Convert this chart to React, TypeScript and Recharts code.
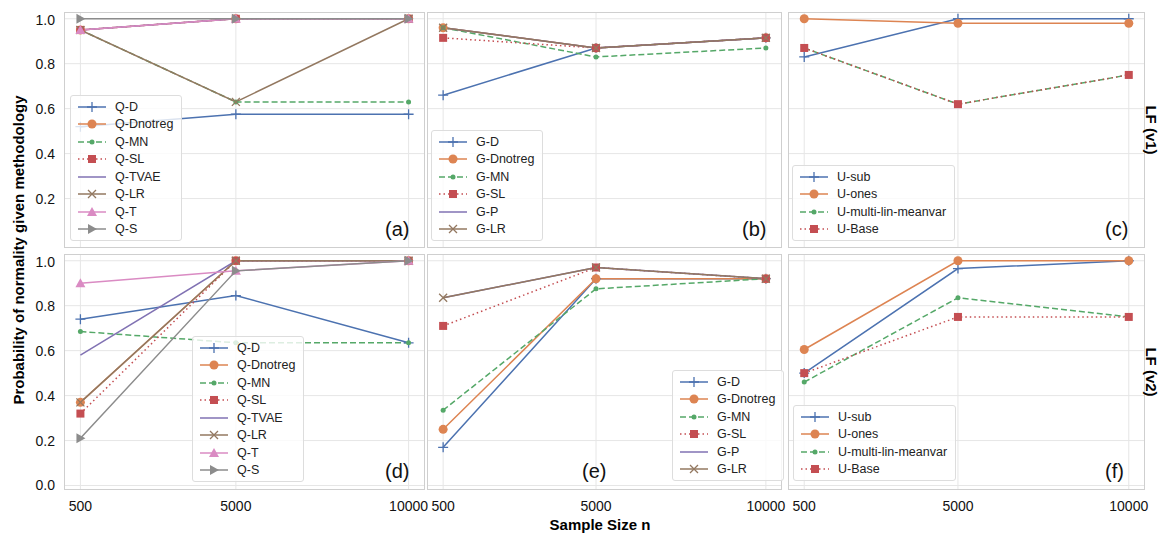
import React from 'react';
import { LineChart, Line, XAxis, YAxis, CartesianGrid } from 'recharts';

const sizes = [500, 5000, 10000];
const yTicks = [0, 0.2, 0.4, 0.6, 0.8, 1.0];

// panel (a): Q methods, LF v1
const aQD = [0.52, 0.575, 0.575];
const aQDnotreg = [0.95, 1.0, 1.0];
const aQMN = [0.95, 0.63, 0.63];
const aQSL = [0.95, 1.0, 1.0];
const aQTVAE = [0.95, 1.0, 1.0];
const aQLR = [0.95, 0.63, 1.0];
const aQT = [0.95, 1.0, 1.0];
const aQS = [1.0, 1.0, 1.0];

// panel (b): G methods, LF v1
const bGD = [0.66, 0.87, 0.915];
const bGDnotreg = [0.96, 0.87, 0.915];
const bGMN = [0.96, 0.83, 0.87];
const bGSL = [0.915, 0.87, 0.915];
const bGP = [0.96, 0.87, 0.915];
const bGLR = [0.96, 0.87, 0.915];

// panel (c): U methods, LF v1
const cUsub = [0.83, 1.0, 1.0];
const cUones = [1.0, 0.98, 0.98];
const cUmulti = [0.87, 0.62, 0.75];
const cUBase = [0.87, 0.62, 0.75];

// panel (d): Q methods, LF v2
const dQD = [0.74, 0.845, 0.635];
const dQDnotreg = [0.37, 1.0, 1.0];
const dQMN = [0.685, 0.635, 0.635];
const dQSL = [0.32, 1.0, 1.0];
const dQTVAE = [0.58, 1.0, 1.0];
const dQLR = [0.37, 1.0, 1.0];
const dQT = [0.9, 0.955, 1.0];
const dQS = [0.21, 0.955, 1.0];

// panel (e): G methods, LF v2
const eGD = [0.17, 0.92, 0.92];
const eGDnotreg = [0.25, 0.92, 0.92];
const eGMN = [0.335, 0.875, 0.92];
const eGSL = [0.71, 0.97, 0.92];
const eGP = [0.835, 0.97, 0.92];
const eGLR = [0.835, 0.97, 0.92];

// panel (f): U methods, LF v2
const fUsub = [0.5, 0.965, 1.0];
const fUones = [0.605, 1.0, 1.0];
const fUmulti = [0.46, 0.835, 0.75];
const fUBase = [0.5, 0.75, 0.75];

const C = {
  blue: '#4C72B0', orange: '#DD8452', green: '#55A868', red: '#C44E52',
  purple: '#8172B3', brown: '#937860', pink: '#DA8BC3', gray: '#8C8C8C',
};

type Marker = 'plus' | 'circle' | 'dot' | 'square' | 'none' | 'x' | 'tri' | 'right';
type S = { name: string; values: number[]; color: string; marker: Marker; dash?: string };

const drawMarker = (m: Marker, cx: number, cy: number, color: string, key?: any) => {
  switch (m) {
    case 'plus':
      return <path key={key} d={`M${cx - 5},${cy}H${cx + 5}M${cx},${cy - 5}V${cy + 5}`} stroke={color} strokeWidth={1.3} />;
    case 'circle':
      return <circle key={key} cx={cx} cy={cy} r={4.5} fill={color} />;
    case 'dot':
      return <circle key={key} cx={cx} cy={cy} r={2.5} fill={color} />;
    case 'square':
      return <rect key={key} x={cx - 4} y={cy - 4} width={8} height={8} fill={color} />;
    case 'x':
      return <path key={key} d={`M${cx - 4},${cy - 4}L${cx + 4},${cy + 4}M${cx - 4},${cy + 4}L${cx + 4},${cy - 4}`} stroke={color} strokeWidth={1.3} />;
    case 'tri':
      return <path key={key} d={`M${cx},${cy - 5}L${cx + 5},${cy + 4}L${cx - 5},${cy + 4}Z`} fill={color} />;
    case 'right':
      return <path key={key} d={`M${cx + 5},${cy}L${cx - 4},${cy - 5}L${cx - 4},${cy + 5}Z`} fill={color} />;
    default:
      return <g key={key} />;
  }
};

const qSeries = (v: number[][]): S[] => [
  { name: 'Q-D', values: v[0], color: C.blue, marker: 'plus' },
  { name: 'Q-Dnotreg', values: v[1], color: C.orange, marker: 'circle' },
  { name: 'Q-MN', values: v[2], color: C.green, marker: 'dot', dash: '6 3' },
  { name: 'Q-SL', values: v[3], color: C.red, marker: 'square', dash: '1.5 3' },
  { name: 'Q-TVAE', values: v[4], color: C.purple, marker: 'none' },
  { name: 'Q-LR', values: v[5], color: C.brown, marker: 'x' },
  { name: 'Q-T', values: v[6], color: C.pink, marker: 'tri' },
  { name: 'Q-S', values: v[7], color: C.gray, marker: 'right' },
];
const gSeries = (v: number[][]): S[] => [
  { name: 'G-D', values: v[0], color: C.blue, marker: 'plus' },
  { name: 'G-Dnotreg', values: v[1], color: C.orange, marker: 'circle' },
  { name: 'G-MN', values: v[2], color: C.green, marker: 'dot', dash: '6 3' },
  { name: 'G-SL', values: v[3], color: C.red, marker: 'square', dash: '1.5 3' },
  { name: 'G-P', values: v[4], color: C.purple, marker: 'none' },
  { name: 'G-LR', values: v[5], color: C.brown, marker: 'x' },
];
const uSeries = (v: number[][]): S[] => [
  { name: 'U-sub', values: v[0], color: C.blue, marker: 'plus' },
  { name: 'U-ones', values: v[1], color: C.orange, marker: 'circle' },
  { name: 'U-multi-lin-meanvar', values: v[2], color: C.green, marker: 'dot', dash: '6 3' },
  { name: 'U-Base', values: v[3], color: C.red, marker: 'square', dash: '1.5 3' },
];

const font = '"Liberation Sans", Arial, sans-serif';
const PLOT_H = 236;
const cols = [{ left: 64, w: 361 }, { left: 427, w: 355 }, { left: 788, w: 357 }];
const rows = [12, 254];
const Y_W = 34;
const X_H = 28;
const R_PAD = 20;

type PanelProps = {
  series: S[]; label: string; col: number; row: number;
  legend: { left: number; top: number }; labelX?: number;
};

const Panel = ({ series, label, col, row, legend, labelX }: PanelProps) => {
  const { left, w } = cols[col];
  const top = rows[row];
  const showY = col === 0;
  const showX = row === 1;
  const yw = showY ? Y_W : 0;
  const xh = showX ? X_H : 0;
  const data = sizes.map((n, i) => {
    const r: any = { n };
    series.forEach((s) => { r[s.name] = s.values[i]; });
    return r;
  });
  return (
    <>
      <div style={{ position: 'absolute', left: left - yw, top }}>
        <LineChart width={w + yw + R_PAD} height={PLOT_H + xh} data={data} margin={{ top: 0, right: R_PAD, bottom: 0, left: 0 }}>
          <CartesianGrid stroke="#e6e6e6" horizontalValues={yTicks} verticalValues={sizes} />
          <XAxis dataKey="n" type="number" domain={[25, 10475]} ticks={sizes} hide={!showX} height={X_H}
            axisLine={false} tickLine={false} tick={{ fontSize: 14, fill: '#111', fontFamily: font }} tickMargin={5}
            allowDataOverflow />
          <YAxis type="number" domain={[-0.02, 1.03]} ticks={yTicks} hide={!showY} width={Y_W}
            axisLine={false} tickLine={false} tickFormatter={(v) => v.toFixed(1)} allowDataOverflow
            tick={{ fontSize: 14, fill: '#111', fontFamily: font }} tickMargin={3} />
          {series.map((s) => (
            <Line key={s.name} dataKey={s.name} stroke={s.color} strokeWidth={1.5} strokeDasharray={s.dash}
              isAnimationActive={false}
              dot={(p: any) => drawMarker(s.marker, p.cx, p.cy, s.color, p.index)} activeDot={false} />
          ))}
        </LineChart>
        <div style={{ position: 'absolute', left: yw, top: 0, width: w - 2, height: PLOT_H - 2, border: '1px solid #cfcfcf', pointerEvents: 'none' }} />
        <div style={{ position: 'absolute', left: labelX !== undefined ? labelX - left + yw : yw + w - 40, top: PLOT_H - 30, fontFamily: font, fontSize: 20, color: '#111' }}>{label}</div>
      </div>
      <div style={{ position: 'absolute', left: legend.left, top: legend.top, background: 'rgba(255,255,255,0.8)', border: '1px solid #ddd', borderRadius: 3, padding: '2px 8px 2px 6px', fontFamily: font, fontSize: 12.5, color: '#222' }}>
        {series.map((s) => (
          <div key={s.name} style={{ display: 'flex', alignItems: 'center', height: 17.5 }}>
            <svg width={30} height={12} style={{ marginRight: 8 }}>
              <line x1={1} y1={6} x2={29} y2={6} stroke={s.color} strokeWidth={1.5} strokeDasharray={s.dash} />
              {drawMarker(s.marker, 15, 6, s.color)}
            </svg>
            {s.name}
          </div>
        ))}
      </div>
    </>
  );
};

export default function App() {
  return (
    <div style={{ position: 'fixed', left: 0, top: 0, width: 1161, height: 537, background: '#fff', fontFamily: font }}>
      <Panel col={0} row={0} label="(a)" legend={{ left: 70, top: 95 }}
        series={qSeries([aQD, aQDnotreg, aQMN, aQSL, aQTVAE, aQLR, aQT, aQS])} />
      <Panel col={1} row={0} label="(b)" legend={{ left: 431, top: 130 }}
        series={gSeries([bGD, bGDnotreg, bGMN, bGSL, bGP, bGLR])} />
      <Panel col={2} row={0} label="(c)" legend={{ left: 792, top: 165 }}
        series={uSeries([cUsub, cUones, cUmulti, cUBase])} />
      <Panel col={0} row={1} label="(d)" legend={{ left: 192, top: 336 }}
        series={qSeries([dQD, dQDnotreg, dQMN, dQSL, dQTVAE, dQLR, dQT, dQS])} />
      <Panel col={1} row={1} label="(e)" legend={{ left: 672, top: 370 }} labelX={582}
        series={gSeries([eGD, eGDnotreg, eGMN, eGSL, eGP, eGLR])} />
      <Panel col={2} row={1} label="(f)" legend={{ left: 793, top: 405 }}
        series={uSeries([fUsub, fUones, fUmulti, fUBase])} />
      <div style={{ position: 'absolute', left: 18, top: 250, transform: 'translate(-50%,-50%) rotate(-90deg)', whiteSpace: 'nowrap', fontWeight: 'bold', fontSize: 15 }}>
        Probability of normality given methodology
      </div>
      <div style={{ position: 'absolute', left: 1151, top: 130, transform: 'translate(-50%,-50%) rotate(90deg)', whiteSpace: 'nowrap', fontWeight: 'bold', fontSize: 15 }}>LF (v1)</div>
      <div style={{ position: 'absolute', left: 1151, top: 372, transform: 'translate(-50%,-50%) rotate(90deg)', whiteSpace: 'nowrap', fontWeight: 'bold', fontSize: 15 }}>LF (v2)</div>
      <div style={{ position: 'absolute', left: 600, top: 524, transform: 'translate(-50%,-50%)', whiteSpace: 'nowrap', fontWeight: 'bold', fontSize: 15 }}>Sample Size n</div>
    </div>
  );
}
